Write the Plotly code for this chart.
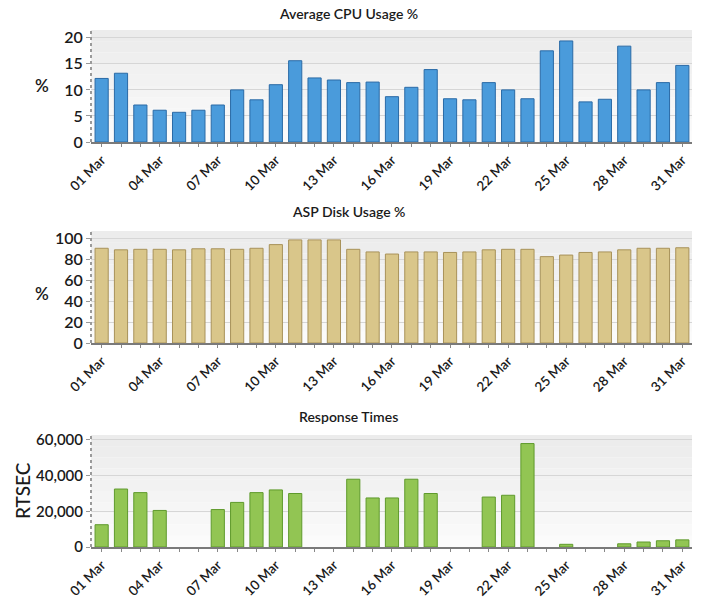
import plotly.graph_objects as go

days = [f"{d:02d} Mar" for d in range(1, 32)]
tick_labels = [d if i % 3 == 0 else "" for i, d in enumerate(days)]

cpu_usage = [12.2, 13.2, 7.1, 6.1, 5.7, 6.1, 7.1, 10.0, 8.1, 11.0, 15.6, 12.3, 11.9, 11.4, 11.5,
             8.7, 10.5, 13.9, 8.3, 8.1, 11.4, 10.0, 8.3, 17.5, 19.4, 7.7, 8.2, 18.4, 10.0, 11.4, 14.7]
disk_usage = [90.5, 89, 89.5, 89.5, 89, 90, 90, 89.5, 90.5, 94, 98.5, 98.5, 98.5, 89.5, 87,
              85, 87, 87, 86.5, 87, 89, 89.5, 89.5, 82.5, 84, 86.5, 87, 89, 90.5, 90.5, 91]
response_times = [12500, 32500, 30500, 20500, None, None, 21000, 25000, 30500, 32000, 30000, None, None,
                  38000, 27500, 27500, 38000, 30000, None, None, 28000, 29000, 58000, None, 1500,
                  None, None, 1800, 2800, 3500, 4000]

cpu_ticks = [0, 5, 10, 15, 20]
disk_ticks = [0, 20, 40, 60, 80, 100]
resp_ticks = [0, 20000, 40000, 60000]
resp_ticktext = ["0", "20,000", "40,000", "60,000"]

W, H = 703, 599
FONT = "Lato"

def py(px):
    return 1 - px / H

panels = [
    (cpu_usage, "#4a9bdb", "#2a6aa6", 30, 142, [0, 21.5], cpu_ticks, None, "Average CPU Usage %", 13, 16),
    (disk_usage, "#d9c68a", "#a8925a", 231, 343, [0, 107], disk_ticks, None, "ASP Disk Usage %", 212, 16),
    (response_times, "#92c553", "#5f9a2c", 435, 547, [0, 62800], resp_ticks, resp_ticktext, "Response Times", 416, 15),
]

fig = go.Figure()
annotations = []
shapes = []
x0, x1 = 91 / W, 692 / W

for i, (vals, col, lcol, ytop, ybot, yr, tv, tt, title, ty, yfs) in enumerate(panels):
    n = "" if i == 0 else str(i + 1)
    fig.add_trace(go.Bar(x=days, y=vals, xaxis="x" + n, yaxis="y" + n,
                         marker=dict(color=col, line=dict(color=lcol, width=1)),
                         showlegend=False, hoverinfo="x+y"))
    fig.layout["xaxis" + n] = dict(
        domain=[x0, x1], anchor="y" + n, type="category", automargin=False,
        range=[-0.55, 30.5], tickmode="array", tickvals=days, ticktext=tick_labels,
        tickangle=-45, ticks="outside", ticklen=3, tickcolor="#888",
        showline=True, linecolor="#7a7a7a", linewidth=2, showgrid=False,
        tickfont=dict(family=FONT, size=13.5, color="#1a1a1a", weight=600),
        fixedrange=True,
    )
    fig.layout["yaxis" + n] = dict(
        domain=[py(ybot), py(ytop)], anchor="x" + n, range=yr, automargin=False,
        tickmode="array", tickvals=tv, ticktext=tt if tt else [str(v) for v in tv],
        ticks="outside", ticklen=4, tickcolor="#999",
        showgrid=True, gridcolor="#d6d6d6", gridwidth=1, zeroline=False,
        showline=False,
        tickfont=dict(family=FONT, size=yfs, color="#1a1a1a", weight=600),
        fixedrange=True,
    )
    nb = 10
    for b in range(nb):
        g = int(251 - 15 * (b / (nb - 1)))
        shapes.append(dict(type="rect", xref=f"x{n} domain", yref=f"y{n} domain",
                           x0=0, x1=1, y0=b / nb, y1=(b + 1) / nb,
                           fillcolor=f"rgb({g},{g},{g})", line=dict(width=0), layer="below"))
    shapes.append(dict(type="line", xref=f"x{n} domain", yref=f"y{n} domain",
                       x0=0, x1=0, y0=0, y1=1, line=dict(color="#9a9a9a", width=2, dash="dot")))
    annotations.append(dict(text=title, x=348 / W, y=py(ty), xref="paper", yref="paper",
                            showarrow=False, xanchor="center", yanchor="middle",
                            font=dict(family=FONT, size=14, color="#1a1a1a", weight=600)))

annotations.append(dict(text="%", x=42 / W, y=py(86), xref="paper", yref="paper", showarrow=False,
                        xanchor="center", yanchor="middle",
                        font=dict(family=FONT, size=17, color="#1a1a1a", weight=600)))
annotations.append(dict(text="%", x=42 / W, y=py(293), xref="paper", yref="paper", showarrow=False,
                        xanchor="center", yanchor="middle",
                        font=dict(family=FONT, size=17, color="#1a1a1a", weight=600)))
annotations.append(dict(text="RTSEC", x=23 / W, y=py(490), xref="paper", yref="paper", showarrow=False,
                        xanchor="center", yanchor="middle", textangle=-90,
                        font=dict(family=FONT, size=19, color="#1a1a1a", weight=500)))

fig.update_layout(
    width=W, height=H, margin=dict(l=0, r=0, t=0, b=0),
    paper_bgcolor="white", plot_bgcolor="rgba(0,0,0,0)",
    bargap=0.32, annotations=annotations, shapes=shapes,
)

fig.write_html("out.html", config={"displayModeBar": False},
               post_script="document.body.style.margin='0';document.body.style.overflow='hidden';")
